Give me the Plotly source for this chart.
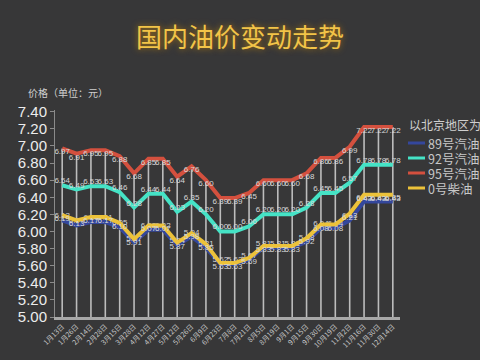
import plotly.graph_objects as go

dates = ["1月13日", "1月26日", "2月14日", "2月28日", "3月15日", "3月28日",
         "4月12日", "4月27日", "5月12日", "5月26日", "6月9日", "6月23日",
         "7月8日", "7月21日", "8月5日", "8月19日", "9月1日", "9月15日",
         "9月30日", "10月19日", "11月2日", "11月16日", "11月30日", "12月14日"]

p89 = [6.13, 6.07, 6.11, 6.11, 6.05, 5.87, 6.02, 6.02, 5.84, 5.94, 5.81, 5.62,
       5.62, 5.67, 5.81, 5.81, 5.81, 5.88, 6.04, 6.04, 6.13, 6.35, 6.35, 6.35]
p92 = [6.54, 6.49, 6.53, 6.53, 6.46, 6.28, 6.44, 6.44, 6.23, 6.35, 6.20, 6.00,
       6.00, 6.06, 6.20, 6.20, 6.20, 6.28, 6.45, 6.45, 6.57, 6.78, 6.78, 6.78]
p95 = [6.97, 6.91, 6.95, 6.95, 6.88, 6.68, 6.85, 6.85, 6.64, 6.76, 6.60, 6.39,
       6.39, 6.45, 6.60, 6.60, 6.60, 6.68, 6.86, 6.86, 6.99, 7.22, 7.22, 7.22]
p0 = [6.19, 6.13, 6.17, 6.17, 6.10, 5.91, 6.07, 6.07, 5.87, 5.98, 5.85, 5.63,
      5.63, 5.69, 5.83, 5.83, 5.83, 5.92, 6.08, 6.08, 6.21, 6.43, 6.43, 6.43]

names = ["89号汽油", "92号汽油", "95号汽油", "0号柴油"]
colors = ["#34479c", "#45e3c6", "#d4503e", "#ecc23a"]
Y_MIN = 5.0
ytick_vals = [Y_MIN + 0.2 * i for i in range(13)]

FONT = "Noto Sans CJK SC"
BG = "#373738"

fig = go.Figure()

# drop lines from the 95# series down to the axis
fig.add_trace(go.Scatter(
    x=dates, y=p95, mode="markers", marker=dict(size=1, opacity=0),
    error_y=dict(type="data", symmetric=False, array=[0] * len(p95),
                 arrayminus=[v - Y_MIN for v in p95], width=0,
                 thickness=1.6, color="#bdbdbd"),
    showlegend=False, hoverinfo="skip"))

series = [(p89, colors[0], "top center"),
          (p92, colors[1], "top center"),
          (p95, colors[2], "bottom center"),
          (p0, colors[3], "bottom center")]
for vals, col, pos in series:
    fig.add_trace(go.Scatter(
        x=dates, y=vals, mode="lines+text",
        text=[f"{v:.2f}" for v in vals], textposition=pos,
        textfont=dict(size=8, color="#d8d8d8", family="Liberation Sans"),
        line=dict(color=col, width=4), showlegend=False, cliponaxis=False,
        hoverinfo="skip"))

W, H = 480, 360
ml, mr, mt, mb = 55, 80, 110, 43
pw, ph = W - ml - mr, H - mt - mb


def px(x):
    return (x - ml) / pw


def py(y):
    return 1 - (y - mt) / ph


shapes = []
annotations = []
annotations.append(dict(x=px(407), y=py(124), xref="paper", yref="paper",
                        text="以北京地区为例", showarrow=False, xanchor="left",
                        yanchor="middle",
                        font=dict(size=12, color="#cfcfcf", family=FONT)))
for i, (n, c) in enumerate(zip(names, colors)):
    yy = 143 + 15 * i
    shapes.append(dict(type="line", xref="paper", yref="paper",
                       x0=px(408), x1=px(425), y0=py(yy), y1=py(yy),
                       line=dict(color=c, width=3)))
    annotations.append(dict(x=px(426), y=py(yy), xref="paper", yref="paper",
                            text=n, showarrow=False, xanchor="left",
                            yanchor="middle",
                            font=dict(size=12.5, color="#c8c8c8", family=FONT)))
annotations.append(dict(x=px(26), y=py(92), xref="paper", yref="paper",
                        text="价格（单位：元）", showarrow=False, xanchor="left",
                        yanchor="middle",
                        font=dict(size=10, color="#cfcfcf", family=FONT)))

fig.update_layout(
    width=W, height=H,
    margin=dict(l=ml, r=mr, t=mt, b=mb, autoexpand=False),
    paper_bgcolor=BG, plot_bgcolor=BG,
    title=dict(text="国内油价变动走势", x=0.5, xref="container",
               y=1 - 38 / H, yref="container", xanchor="center",
               yanchor="middle",
               font=dict(size=26, color="#f2c448", family=FONT,
                         shadow="0px 0px 6px #b07a10")),
    xaxis=dict(type="category", range=[-0.5, len(dates) - 0.5],
               showgrid=False, showline=True, linecolor="#a8a8a8", linewidth=3,
               tickangle=-45, tickfont=dict(size=7, color="#c8c8c8", family=FONT),
               ticks="", zeroline=False),
    yaxis=dict(range=[Y_MIN, 7.42], tickvals=ytick_vals, tickformat=".2f",
               showgrid=False, showline=True, linecolor="#8a8a8a", linewidth=1,
               ticks="outside", ticklen=4, tickcolor="#8a8a8a",
               tickfont=dict(size=15, color="#ececec", family="Liberation Sans"),
               zeroline=False),
    shapes=shapes, annotations=annotations,
)

fig.write_html(
    "out.html",
    config={"displayModeBar": False},
    post_script=("document.body.style.margin='0';"
                 "document.body.style.background='" + BG + "';"
                 "document.body.style.overflow='hidden';"))
